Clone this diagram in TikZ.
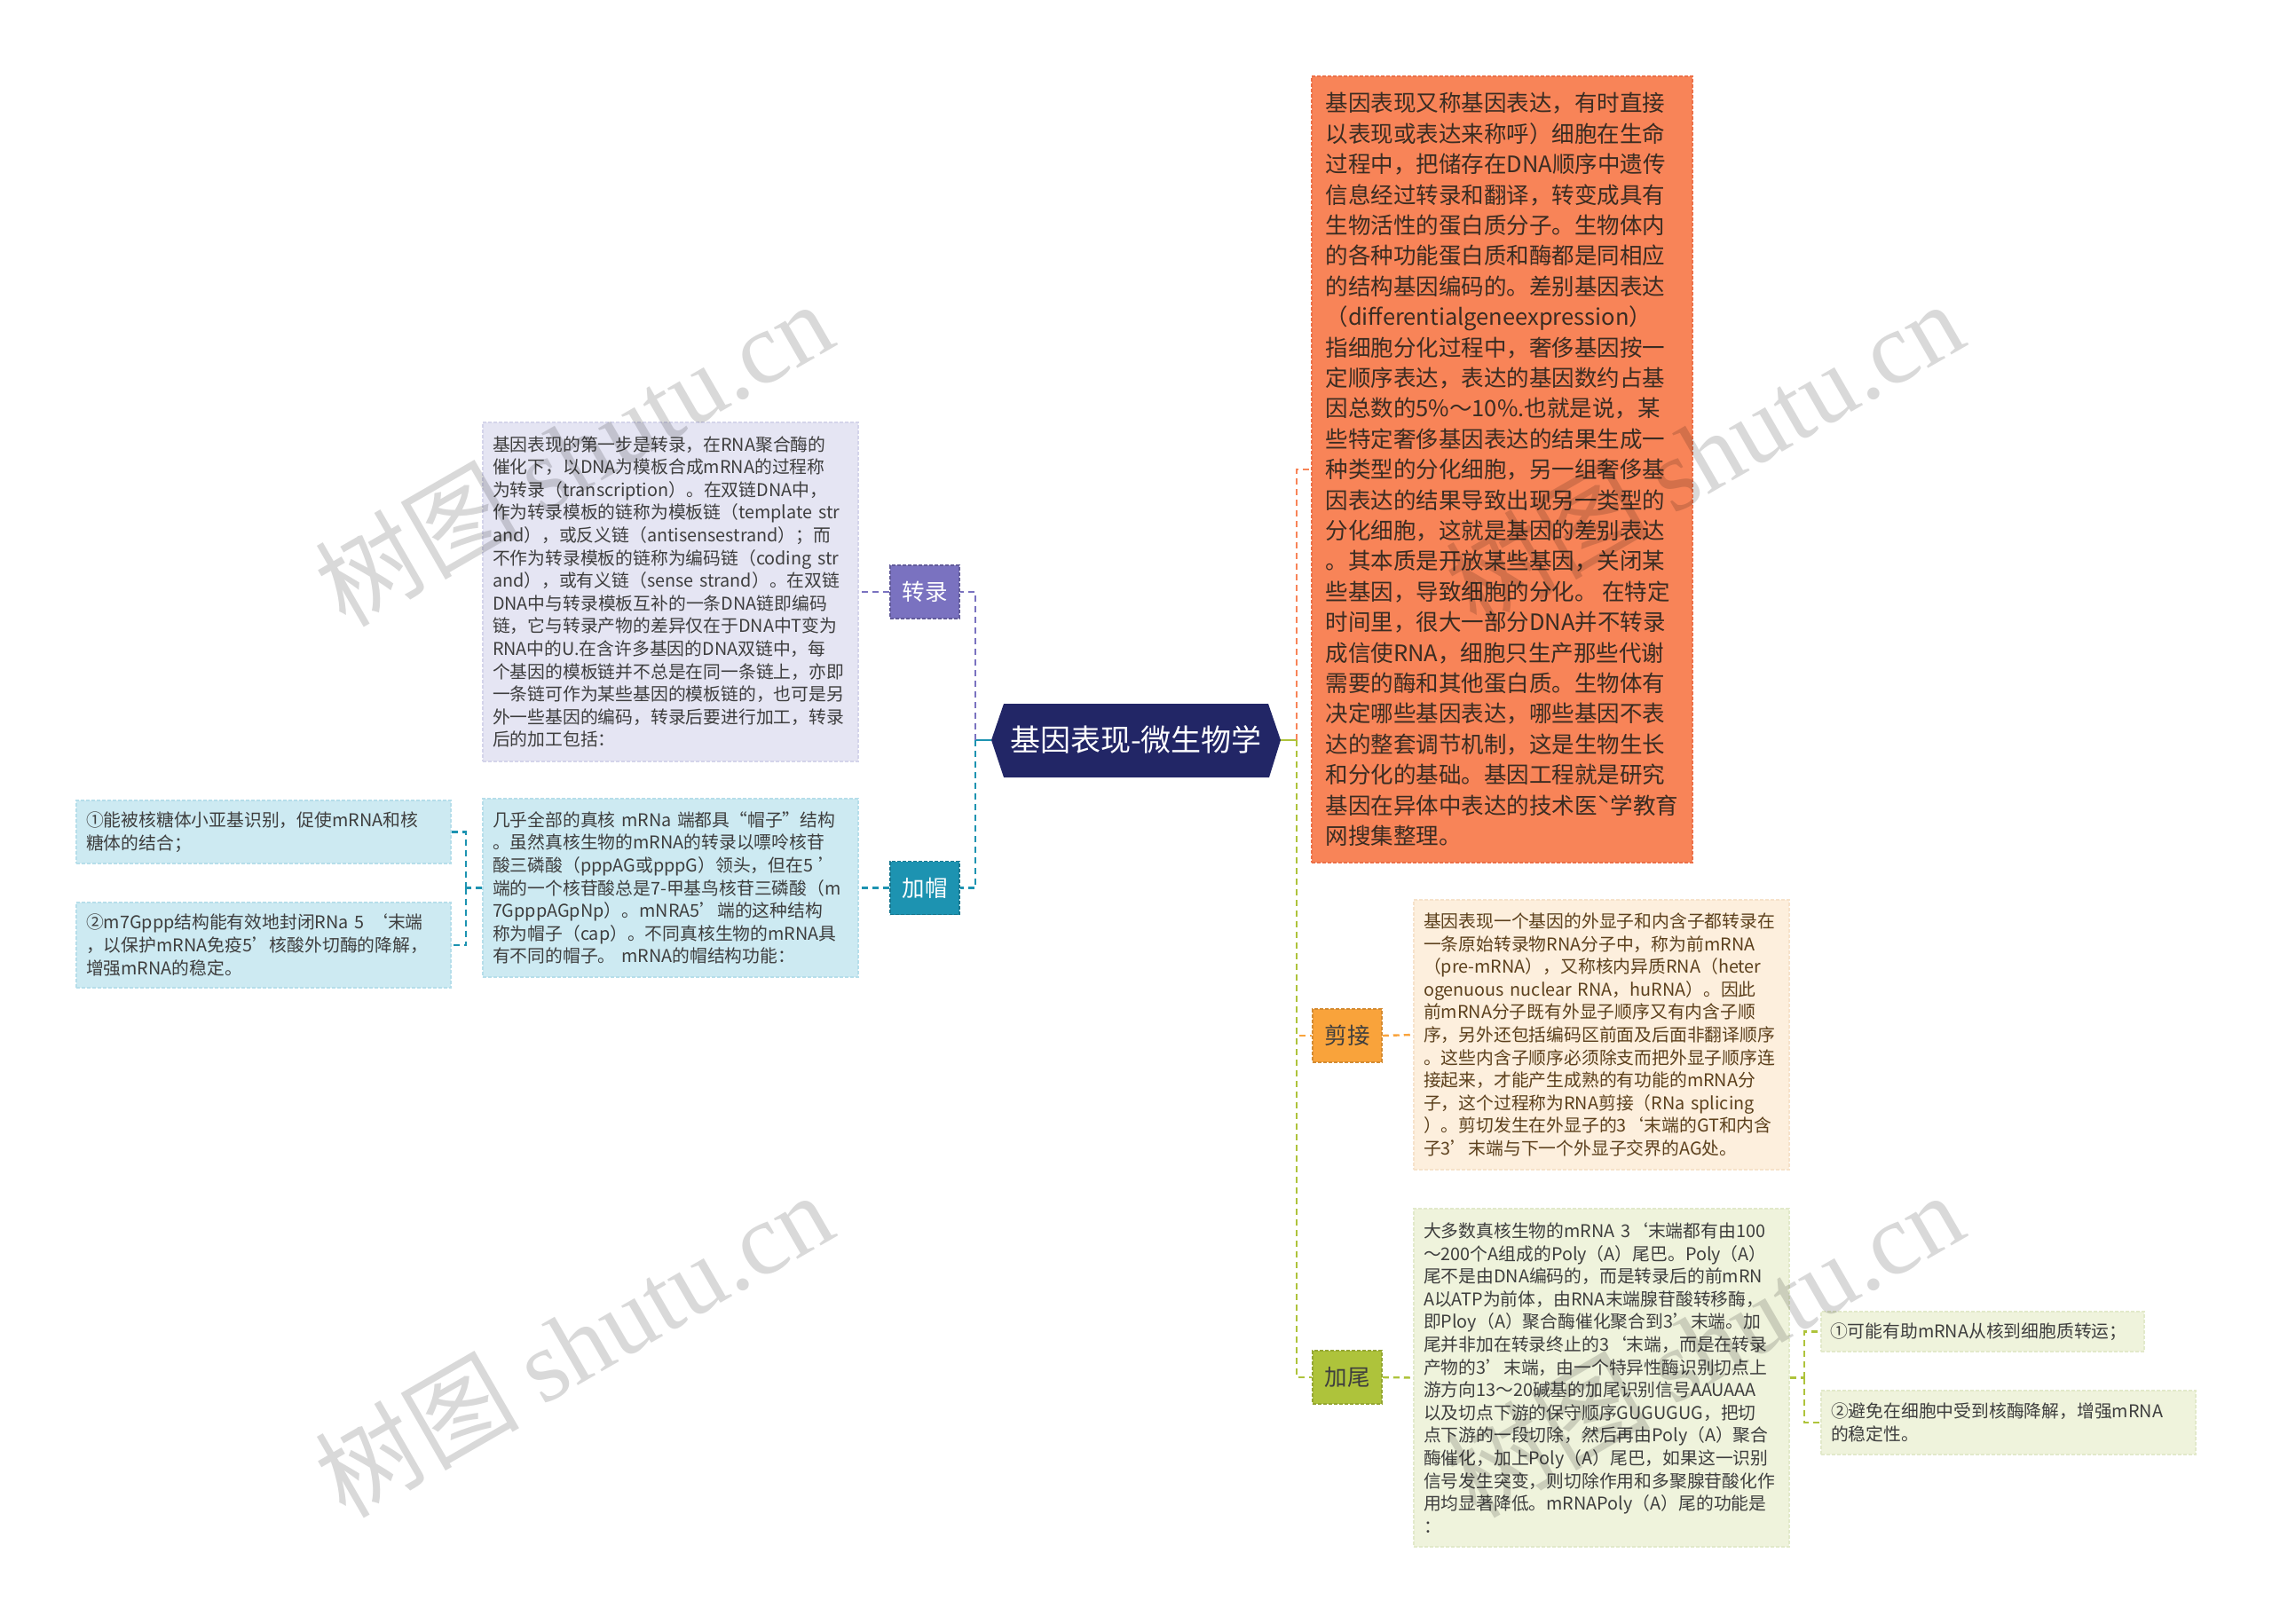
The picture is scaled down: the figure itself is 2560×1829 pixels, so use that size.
\documentclass[tikz,border=0pt]{standalone}
\usepackage{fontspec}
\setmainfont{Noto Sans CJK SC}
\newfontfamily\wmlat{Liberation Serif}
\definecolor{navyN}{RGB}{34,38,102}
\definecolor{purpleN}{RGB}{122,114,192}
\definecolor{lavfill}{RGB}{229,229,243}
\definecolor{lavline}{RGB}{212,212,234}
\definecolor{tealN}{RGB}{29,147,177}
\definecolor{cyanfill}{RGB}{205,234,242}
\definecolor{cyanline}{RGB}{182,222,234}
\definecolor{orangeB}{RGB}{248,132,88}
\definecolor{orangeline}{RGB}{236,112,72}
\definecolor{amberN}{RGB}{249,163,59}
\definecolor{peachfill}{RGB}{253,239,221}
\definecolor{peachline}{RGB}{246,226,202}
\definecolor{limeN}{RGB}{174,195,59}
\definecolor{greenfill}{RGB}{239,243,220}
\definecolor{greenline}{RGB}{226,233,202}
\definecolor{txtgray}{RGB}{62,62,62}
\definecolor{browntxt}{RGB}{92,64,28}
\definecolor{orangetxt}{RGB}{58,44,34}
\begin{document}
\begin{tikzpicture}[x=1pt,y=-1pt,
  conn/.style={line width=2.4pt, dash pattern=on 7pt off 5pt},
  solidconn/.style={line width=2.4pt},
  tbox/.style={rectangle, align=left, inner sep=0pt, line width=1.2pt, dash pattern=on 4pt off 2pt, font=\fontsize{19.8}{25.6}\selectfont},
  lbl/.style={rectangle, minimum width=78, minimum height=60, inner sep=0pt, line width=1.5pt, dash pattern=on 4pt off 2pt, font=\fontsize{25.5}{30}\selectfont},
  wm/.style={rotate=30, text=black, opacity=0.15, font=\fontsize{115}{120}\selectfont}
]
\useasboundingbox[fill=white] (0,0) rectangle (2560,1829);

% ---------- central node ----------
\coordinate (cL) at (1117,834);
\coordinate (cR) at (1443,834);
\fill[navyN] (cL) -- (1131,793) -- (1429,793) -- (cR) -- (1430,876) -- (1131,876) -- cycle;
\node[text=white, font=\fontsize{34}{40}\selectfont, inner sep=0pt] (root) at (1280,833) {基因表现-微生物学};

% ---------- left branch nodes ----------
\node[lbl, fill=purpleN, draw=purpleN!80!black, text=white] (zl) at (1042,667) {转录};
\node[lbl, fill=tealN, draw=tealN!80!black, text=white] (jm) at (1042,1000.5) {加帽};

\node[tbox, fill=lavfill, draw=lavline, text=txtgray, minimum width=423, minimum height=382, text width=401] (zlt) at (755.5,667) {基因表现的第一步是转录，在RNA聚合酶的\\催化下，以DNA为模板合成mRNA的过程称\\为转录（transcription）。在双链DNA中，\\作为转录模板的链称为模板链（template~str\\and），或反义链（antisensestrand）；而\\不作为转录模板的链称为编码链（coding~str\\and），或有义链（sense~strand）。在双链\\DNA中与转录模板互补的一条DNA链即编码\\链，它与转录产物的差异仅在于DNA中T变为\\RNA中的U.在含许多基因的DNA双链中，每\\个基因的模板链并不总是在同一条链上，亦即\\一条链可作为某些基因的模板链的，也可是另\\外一些基因的编码，转录后要进行加工，转录\\后的加工包括：};

\node[tbox, fill=cyanfill, draw=cyanline, text=txtgray, minimum width=423, minimum height=201, text width=401] (jmt) at (755.5,1000.5) {几乎全部的真核~mRNa~端都具“帽子”结构\\。虽然真核生物的mRNA的转录以嘌呤核苷\\酸三磷酸（pppAG或pppG）领头，但在5~’\\端的一个核苷酸总是7-甲基鸟核苷三磷酸（m\\7GpppAGpNp）。mNRA5’端的这种结构\\称为帽子（cap）。不同真核生物的mRNA具\\有不同的帽子。~mRNA的帽结构功能：};

\node[tbox, fill=cyanfill, draw=cyanline, text=txtgray, minimum width=422, minimum height=71, text width=400] (lb1) at (297,937.5) {①能被核糖体小亚基识别，促使mRNA和核\\糖体的结合；};
\node[tbox, fill=cyanfill, draw=cyanline, text=txtgray, minimum width=422, minimum height=96, text width=400] (lb2) at (297,1065) {②m7Gppp结构能有效地封闭RNa~5~‘末端\\，以保护mRNA免疫5’核酸外切酶的降解，\\增强mRNA的稳定。};

% ---------- right branch nodes ----------
\node[tbox, fill=orangeB, draw=orangeline, text=orangetxt, minimum width=429, minimum height=886, font=\fontsize{25.5}{34.4}\selectfont] (ob) at (1692.5,529) {基因表现又称基因表达，有时直接\\以表现或表达来称呼）细胞在生命\\过程中，把储存在DNA顺序中遗传\\信息经过转录和翻译，转变成具有\\生物活性的蛋白质分子。生物体内\\的各种功能蛋白质和酶都是同相应\\的结构基因编码的。差别基因表达\\（differentialgeneexpression）\\指细胞分化过程中，奢侈基因按一\\定顺序表达，表达的基因数约占基\\因总数的5\%～10\%.也就是说，某\\些特定奢侈基因表达的结果生成一\\种类型的分化细胞，另一组奢侈基\\因表达的结果导致出现另一类型的\\分化细胞，这就是基因的差别表达\\。其本质是开放某些基因，关闭某\\些基因，导致细胞的分化。 在特定\\时间里，很大一部分DNA并不转录\\成信使RNA，细胞只生产那些代谢\\需要的酶和其他蛋白质。生物体有\\决定哪些基因表达，哪些基因不表\\达的整套调节机制，这是生物生长\\和分化的基础。基因工程就是研究\\基因在异体中表达的技术医ˋ学教育\\网搜集整理。};

\node[lbl, fill=amberN, draw=amberN!85!black, text=txtgray] (jj) at (1518,1167) {剪接};
\node[lbl, fill=limeN, draw=limeN!85!black, text=txtgray] (jw) at (1518,1552) {加尾};

\node[tbox, fill=peachfill, draw=peachline, text=browntxt, minimum width=423, minimum height=304, text width=401] (jjt) at (1804.5,1166) {基因表现一个基因的外显子和内含子都转录在\\一条原始转录物RNA分子中，称为前mRNA\\（pre-mRNA），又称核内异质RNA（heter\\ogenuous~nuclear~RNA，huRNA）。因此\\前mRNA分子既有外显子顺序又有内含子顺\\序，另外还包括编码区前面及后面非翻译顺序\\。这些内含子顺序必须除支而把外显子顺序连\\接起来，才能产生成熟的有功能的mRNA分\\子，这个过程称为RNA剪接（RNa~splicing\\）。剪切发生在外显子的3‘末端的GT和内含\\子3’末端与下一个外显子交界的AG处。};

\node[tbox, fill=greenfill, draw=greenline, text=txtgray, minimum width=423, minimum height=381, text width=401] (jwt) at (1804.5,1552.5) {大多数真核生物的mRNA~3‘末端都有由100\\～200个A组成的Poly（A）尾巴。Poly（A）\\尾不是由DNA编码的，而是转录后的前mRN\\A以ATP为前体，由RNA末端腺苷酸转移酶，\\即Ploy（A）聚合酶催化聚合到3’末端。加\\尾并非加在转录终止的3‘末端，而是在转录\\产物的3’末端，由一个特异性酶识别切点上\\游方向13～20碱基的加尾识别信号AAUAAA\\以及切点下游的保守顺序GUGUGUG，把切\\点下游的一段切除，然后再由Poly（A）聚合\\酶催化，加上Poly（A）尾巴，如果这一识别\\信号发生突变，则切除作用和多聚腺苷酸化作\\用均显著降低。mRNAPoly（A）尾的功能是\\：};

\node[tbox, fill=greenfill, draw=greenline, text=txtgray, minimum width=364, minimum height=45, text width=344] (rb1) at (2234,1500.5) {①可能有助mRNA从核到细胞质转运；};
\node[tbox, fill=greenfill, draw=greenline, text=txtgray, minimum width=422, minimum height=72, text width=400] (rb2) at (2263,1603) {②避免在细胞中受到核酶降解，增强mRNA\\的稳定性。};

% ---------- connectors ----------
\coordinate (jL) at (1099,834);
\coordinate (jL2) at (525,1000.5);
\coordinate (jR) at (1461,834);
\coordinate (jR2) at (2033,1552.5);

\draw[solidconn, tealN] (cL) -- (jL);
\draw[conn, purpleN] (jL) |- (zl.east);
\draw[conn, tealN] (jL) |- (jm.east);
\draw[conn, purpleN] (zl.west) -- (zlt.east);
\draw[conn, tealN] (jm.west) -- (jmt.east);
\draw[conn, tealN] (jmt.west) -- (jL2);
\draw[conn, tealN] (jL2) |- (lb1.east);
\draw[conn, tealN] (jL2) |- (lb2.east);

\draw[solidconn, limeN] (cR) -- (jR);
\draw[conn, orangeB] (jR) |- (ob.west);
\draw[conn, amberN] (jR) |- (jj.west);
\draw[conn, limeN] (jR) |- (jw.west);
\draw[conn, amberN] (jj.east) -- (jjt.west);
\draw[conn, limeN] (jw.east) -- (jwt.west);
\draw[conn, limeN] (jwt.east) -- (jR2);
\draw[conn, limeN] (jR2) |- (rb1.west);
\draw[conn, limeN] (jR2) |- (rb2.west);

% ---------- watermarks ----------
\node[wm] (wm1) at (646,510) {树图 {\wmlat shutu.cn}};
\node[wm] (wm2) at (646,1514) {树图 {\wmlat shutu.cn}};
\node[wm] (wm3) at (1920,510) {树图 {\wmlat shutu.cn}};
\node[wm] (wm4) at (1920,1514) {树图 {\wmlat shutu.cn}};
\end{tikzpicture}
\end{document}
